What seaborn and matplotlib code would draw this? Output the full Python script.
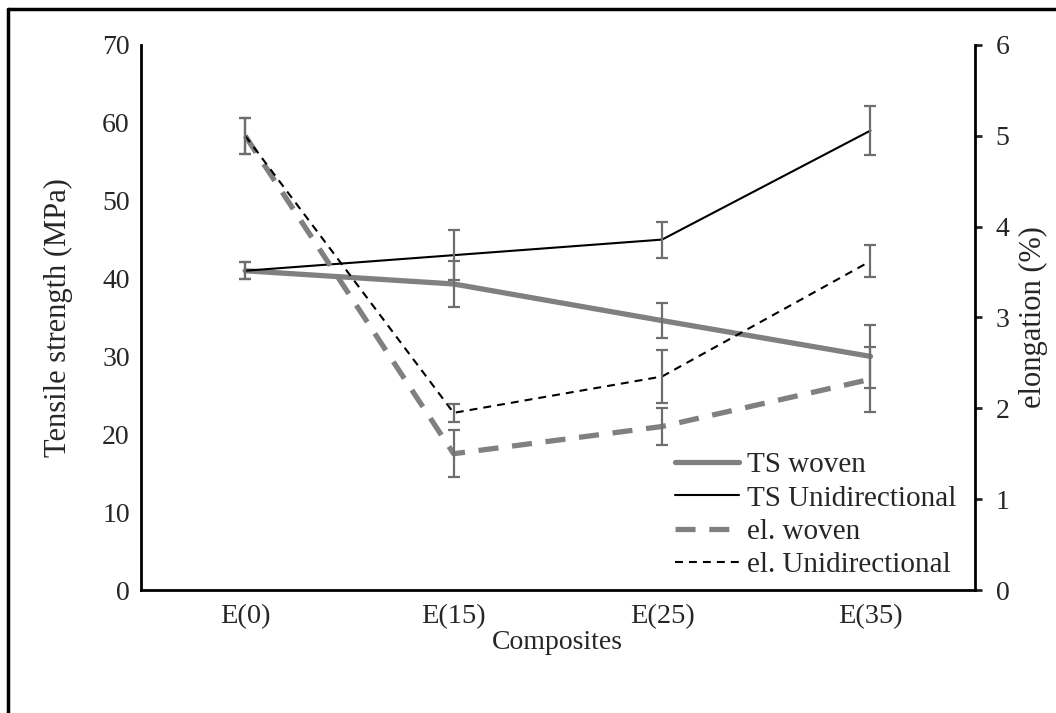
import numpy as np
import pandas as pd
import matplotlib
matplotlib.use("Agg")
import matplotlib.pyplot as plt
from matplotlib.lines import Line2D
import seaborn as sns

# Composite formulations
composites = ["E(0)", "E(15)", "E(25)", "E(35)"]

# Tensile strength (MPa) and standard deviation
ts_woven = [41.0, 39.3, 34.6, 30.0]
ts_woven_err = [1.1, 2.9, 2.3, 4.0]
ts_uni = [41.0, 43.0, 45.0, 59.0]
ts_uni_err = [1.1, 3.2, 2.3, 3.1]

# Elongation at break (%) and standard deviation
el_woven = [5.0, 1.5, 1.8, 2.32]
el_woven_err = [0.2, 0.26, 0.2, 0.36]
el_uni = [5.0, 1.95, 2.35, 3.62]
el_uni_err = [0.2, 0.1, 0.29, 0.18]

sns.set_style("white")
plt.rcParams["font.family"] = ["Liberation Serif", "DejaVu Serif"]
TICK_FS = 20
LABEL_FS = 22
LEG_FS = 21
plt.rcParams["font.size"] = TICK_FS

GRAY = "#808080"
ERR = "#6e6e6e"
WOVEN_DASH = (0, (3.8, 2.6))
UNI_DASH = (0, (3.8, 2.9))

fig = plt.figure(figsize=(10.56, 7.13), dpi=100)
ax = fig.add_axes([0.1335, 0.1725, 0.7895, 0.7645])
ax2 = ax.twinx()

df = pd.DataFrame({
    "Composite": composites,
    "TS woven": ts_woven,
    "TS Unidirectional": ts_uni,
    "el. woven": el_woven,
    "el. Unidirectional": el_uni,
})
xpos = np.arange(len(composites))
df["pos"] = xpos

sns.lineplot(data=df, x="pos", y="TS woven", ax=ax, color=GRAY, lw=3.8, zorder=2)
sns.lineplot(data=df, x="pos", y="TS Unidirectional", ax=ax, color="black", lw=1.5, zorder=2)
sns.lineplot(data=df, x="pos", y="el. woven", ax=ax2, color=GRAY, lw=3.8,
             linestyle=WOVEN_DASH, zorder=2)
sns.lineplot(data=df, x="pos", y="el. Unidirectional", ax=ax2, color="black", lw=1.5,
             linestyle=UNI_DASH, zorder=2)

eb_kw = dict(fmt="none", ecolor=ERR, elinewidth=1.6, capsize=4.5, capthick=1.6, zorder=3)
ax.errorbar(xpos, ts_woven, yerr=ts_woven_err, **eb_kw)
ax.errorbar(xpos, ts_uni, yerr=ts_uni_err, **eb_kw)
ax2.errorbar(xpos, el_woven, yerr=el_woven_err, **eb_kw)
ax2.errorbar(xpos, el_uni, yerr=el_uni_err, **eb_kw)

ax.set_xlim(-0.5, 3.5)
ax.set_ylim(0, 70)
ax2.set_ylim(0, 6)
ax.set_xticks(xpos)
ax.set_xticklabels(composites)
ax.set_yticks(np.arange(0, 71, 10))
ax2.set_yticks(np.arange(0, 7, 1))

ax.set_xlabel("Composites", fontsize=20, labelpad=1)
ax.set_ylabel("Tensile strength (MPa)", fontsize=LABEL_FS, labelpad=21)
ax2.set_ylabel("elongation (%)", fontsize=LABEL_FS, labelpad=7)

for a in (ax, ax2):
    a.spines["top"].set_visible(False)
    for side in ("left", "bottom", "right"):
        a.spines[side].set_linewidth(2)
        a.spines[side].set_color("black")
ax.spines["right"].set_visible(False)
ax2.spines["left"].set_visible(False)
ax2.spines["bottom"].set_visible(False)

ax.tick_params(axis="x", length=0, pad=10, labelsize=20.5)
ax.tick_params(axis="y", length=0, pad=8, labelsize=TICK_FS)
ax2.tick_params(axis="y", direction="out", length=5, width=2, pad=10, labelsize=TICK_FS)

handles = [
    Line2D([], [], color=GRAY, lw=3.8),
    Line2D([], [], color="black", lw=1.5),
    Line2D([], [], color=GRAY, lw=3.8, linestyle=WOVEN_DASH),
    Line2D([], [], color="black", lw=1.5, linestyle=UNI_DASH),
]
labels = ["TS woven", "TS Unidirectional", "el. woven", "el. Unidirectional"]
ax2.legend(handles, labels, loc="lower right", bbox_to_anchor=(0.992, 0.0),
           frameon=False, fontsize=LEG_FS, handlelength=2.2, handletextpad=0.27,
           labelspacing=0.24, borderaxespad=0.0)

# Frame around the figure
fig.add_artist(Line2D([8 / 1056, 8 / 1056], [0, 1 - 9 / 713], transform=fig.transFigure,
                      color="black", lw=2.5))
fig.add_artist(Line2D([8 / 1056, 1], [1 - 9 / 713, 1 - 9 / 713], transform=fig.transFigure,
                      color="black", lw=2.5))

fig.savefig("out.png", dpi=100)
